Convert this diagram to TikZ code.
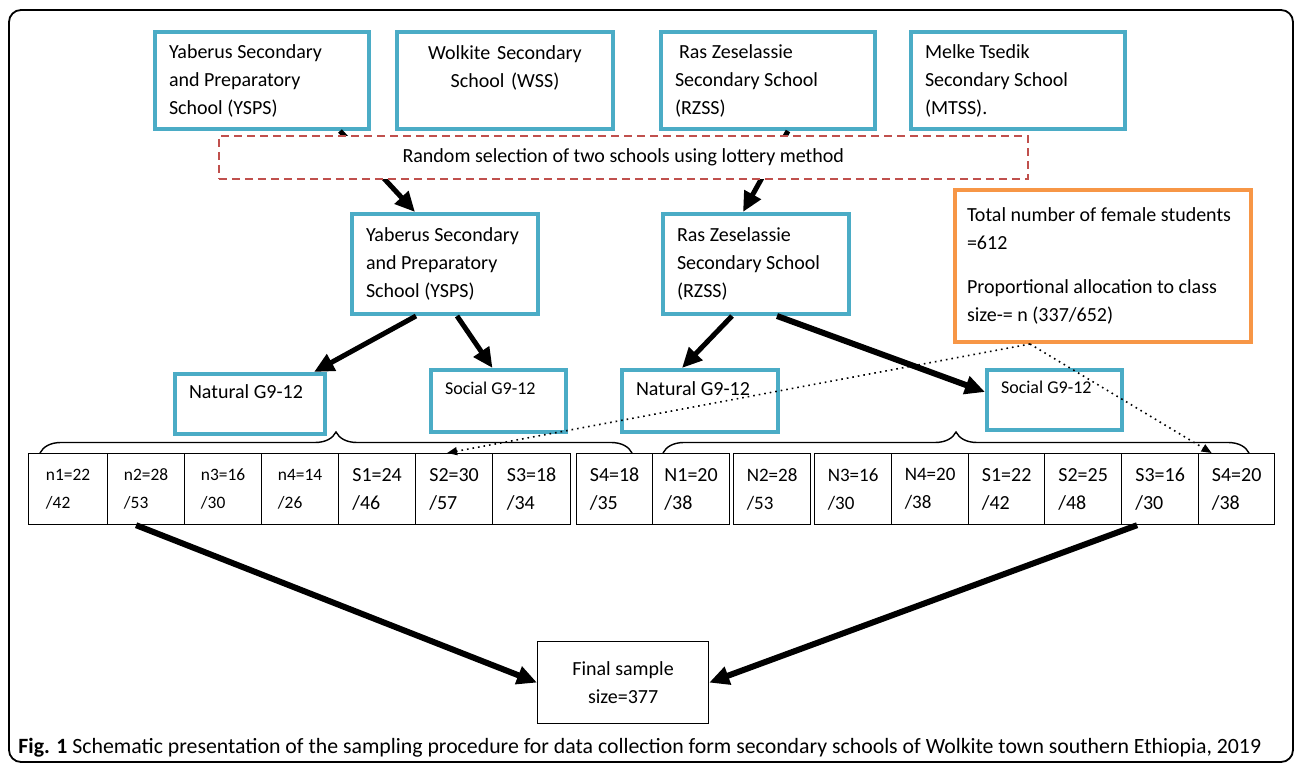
\documentclass[tikz,border=0pt]{standalone}
\usepackage{fontspec}
\setmainfont{Carlito}
\usetikzlibrary{positioning, arrows.meta, calc, decorations.pathreplacing}
\definecolor{sblue}{HTML}{4BACC6}
\definecolor{sorange}{HTML}{F79646}
\definecolor{sred}{HTML}{C0504D}

\begin{document}
\begin{tikzpicture}[x=0.5pt, y=-0.5pt, font=\fontsize{10}{14}\selectfont,
  sch/.style={draw=sblue, line width=2pt, anchor=north west, inner xsep=7pt, inner ysep=0pt, align=flush left},
  cell/.style={draw, line width=0.6pt, anchor=north west, minimum height=35.5pt, inner sep=0pt, align=left},
  arr/.style={-{Triangle[length=10pt, width=9pt]}, line width=2.5pt},
  dots/.style={-{Triangle[length=5pt, width=4pt]}, dotted, line width=0.8pt}
]
  \useasboundingbox (0,0) rectangle (1296,769);
  \draw[line width=0.9pt, rounded corners=6pt] (9,10) rectangle (1293,762);

  % the four schools
  \node[sch, text width=93pt, minimum height=48.5pt] (ysps) at (153,30) {Yaberus Secondary\\and Preparatory\\School (YSPS)};
  \node[sch, text width=94pt, minimum height=48.5pt, align=center, right=12pt of ysps] (wss) {Wolkite Secondary\\School (WSS)\\\mbox{}};
  \node[sch, text width=93pt, minimum height=48.5pt, right=22pt of wss] (rzss) {\hspace*{2pt}Ras Zeselassie\\Secondary School\\(RZSS)};
  \node[sch, text width=93pt, minimum height=48.5pt, right=16pt of rzss] (mtss) {Melke Tsedik\\Secondary School\\(MTSS).};

  % selected schools
  \node[sch, text width=79pt, minimum height=50pt] (ysps2) at (350,212) {Yaberus Secondary\\and Preparatory\\School (YSPS)};
  \node[sch, text width=79pt, minimum height=50pt] (rzss2) at (661,212) {Ras Zeselassie\\Secondary School\\(RZSS)};
  \node[sch, draw=sorange, inner xsep=6pt, text width=136pt, minimum height=76pt] (tot) at (953,188)
    {Total number of female students\\=612\\[8pt]Proportional allocation to class\\size-= n (337/652)};

  % streams
  \node[sch, text width=61pt, minimum height=30pt] (nat1) at (173,372) {Natural G9-12\\[-2pt]\mbox{}};
  \node[sch, text width=53.5pt, minimum height=31pt, font=\fontsize{9}{14}\selectfont] (soc1) at (429,368) {Social G9-12\\[-1pt]\mbox{}};
  \node[sch, text width=64pt, minimum height=31pt] (nat2) at (620,368) {Natural G9-12\\[-2pt]\mbox{}};
  \node[sch, text width=53.5pt, minimum height=30pt, font=\fontsize{9}{14}\selectfont] (soc2) at (985,368) {Social G9-12\\[-1pt]\mbox{}};

  \draw[arr] ($(ysps.south)+(78,0)$) -- ($(ysps2.north)+(-30,0)$);
  \draw[arr] ($(rzss.south)+(20,0)$) -- ($(rzss2.north)+(-13,0)$);
  \node[draw=sred, dashed, dash pattern=on 4pt off 2.5pt, line width=0.8pt, fill=white, anchor=north west,
        minimum width=404.5pt, minimum height=21.5pt] (lot) at (218,135) {Random selection of two schools using lottery method};

  \draw[arr] ($(ysps2.south)+(-29,0)$) -- ($(nat1.north east)+(-13,0)$);
  \draw[arr] ($(ysps2.south)+(12,0)$) -- ($(soc1.north)+(-6,0)$);
  \draw[arr] ($(rzss2.south)+(-24,0)$) -- ($(nat2.north)+(-18,0)$);
  \draw[arr, line width=3pt] ($(rzss2.south)+(21,0)$) -- ($(soc2.west)+(0,-8)$);

  % class sizes
  \foreach \i/\x/\w/\a/\b/\f in {1/28/79/n1=22/42/8.7, 2/107/77/n2=28/53/8.7, 3/184/77/n3=16/30/8.7,
      4/261/77/n4=14/26/8.7, 5/338/77/S1=24/46/10, 6/415/77/S2=30/57/10, 7/492/78/S3=18/34/10,
      8/576/76/S4=18/35/10, 9/652/77/N1=20/38/10, 10/733/77/N2=28/53/9.5, 11/814/77/N3=16/30/9.5,
      12/891/77/N4=20/38/9.5, 13/968/76/S1=22/42/10, 14/1044/77/S2=25/48/10, 15/1121/77/S3=16/30/10,
      16/1198/76/S4=20/38/10}
    \node[cell, minimum width=\w*0.5pt, font=\fontsize{\f}{14}\selectfont] (c\i) at (\x,453) {\a\\/\b};

  \draw[decorate, decoration={brace, amplitude=10.5pt}, line width=0.7pt] (40,453) -- (632,453);
  \draw[decorate, decoration={brace, amplitude=10.5pt}, line width=0.7pt] (663,453) -- (1249,453);

  \coordinate (tap) at ($(tot.south west)+(77,0)$);
  \draw[dots] (tap) -- ($(c6.north)+(-7,0)$);
  \draw[dots] (tap) -- ($(c16.north)+(-25,0)$);

  % final sample
  \node[draw, line width=0.6pt, anchor=north west, minimum width=85.5pt, minimum height=41pt, align=center] (fin) at (537,641) {Final sample\\size=377};
  \draw[arr, line width=3pt] ($(c2.south)+(-10,0)$) -- (fin.west);
  \draw[arr, line width=3pt] ($(c15.south)+(-23,0)$) -- (fin.east);

  \node[anchor=west, inner sep=0pt, font=\fontsize{10.9}{14}\selectfont] (cap) at (18,748) {\textbf{Fig. 1} Schematic presentation of the sampling procedure for data collection form secondary schools of Wolkite town southern Ethiopia, 2019};
\end{tikzpicture}
\end{document}
